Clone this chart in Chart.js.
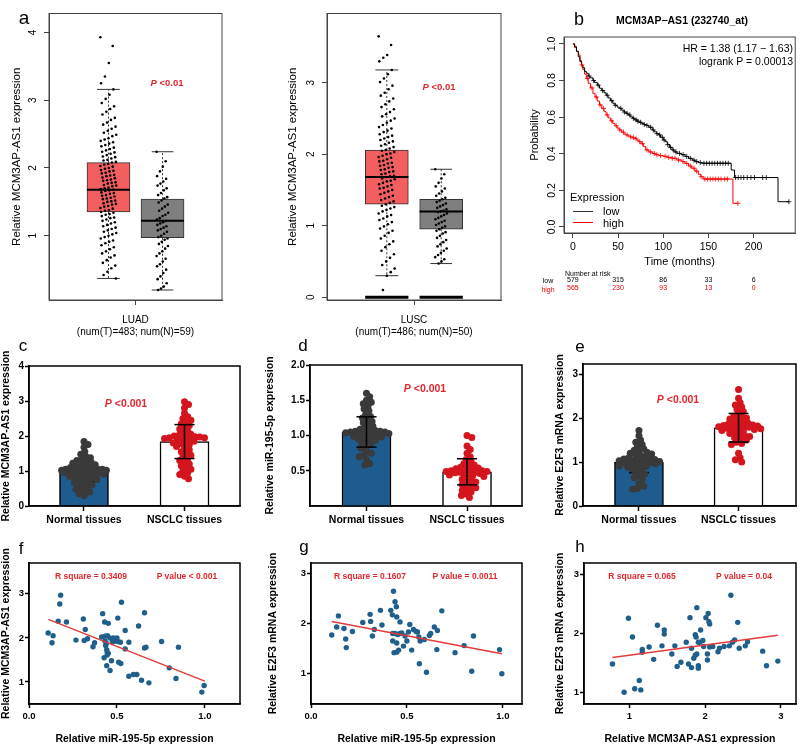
<!DOCTYPE html>
<html><head><meta charset="utf-8">
<script src="https://cdn.jsdelivr.net/npm/chart.js@4.4.1/dist/chart.umd.min.js"></script>
<style>
html,body{margin:0;padding:0;background:#fff;}
#wrap{position:relative;width:800px;height:745px;overflow:hidden;background:#fff;font-family:'Liberation Sans',Arial,Helvetica,sans-serif;color:#000;}
canvas{position:absolute;left:0;top:0;}
.t{position:absolute;white-space:nowrap;transform:translate(-50%,-50%);line-height:1;}
.l{position:absolute;white-space:nowrap;transform:translate(0,-50%);line-height:1;}
.r{position:absolute;white-space:nowrap;transform:translate(-100%,-50%);line-height:1;}
.red{color:#e3262e;font-weight:bold;}
.key{position:absolute;height:0;width:20px;}
</style></head><body><div id="wrap">
<canvas id="cA1" width="800" height="745"></canvas>
<canvas id="cA2" width="800" height="745"></canvas>
<canvas id="cB" width="800" height="745"></canvas>
<canvas id="cC" width="800" height="745"></canvas>
<canvas id="cD" width="800" height="745"></canvas>
<canvas id="cE" width="800" height="745"></canvas>
<canvas id="cF" width="800" height="745"></canvas>
<canvas id="cG" width="800" height="745"></canvas>
<canvas id="cH" width="800" height="745"></canvas>

<div class="t" style="left:24px;top:17px;font-size:19px;">a</div>
<div class="t" style="left:579px;top:19px;font-size:18px;">b</div>
<div class="t" style="left:23px;top:345px;font-size:17px;">c</div>
<div class="t" style="left:303px;top:345px;font-size:17px;">d</div>
<div class="t" style="left:580px;top:346px;font-size:17px;">e</div>
<div class="t" style="left:21px;top:548px;font-size:17px;">f</div>
<div class="t" style="left:304px;top:546px;font-size:17px;">g</div>
<div class="t" style="left:580px;top:546px;font-size:17px;">h</div>

<div class="t red" style="left:167px;top:83px;font-size:9.5px;"><i>P</i> &lt;0.01</div>
<div class="t red" style="left:439px;top:87px;font-size:9.5px;"><i>P</i> &lt;0.01</div>
<div class="t red" style="left:126px;top:403px;font-size:10.5px;"><i>P</i> &lt;0.001</div>
<div class="t red" style="left:425px;top:388px;font-size:10.5px;"><i>P</i> &lt;0.001</div>
<div class="t red" style="left:678px;top:399px;font-size:10.5px;"><i>P</i> &lt;0.001</div>
<div class="t red" style="left:91px;top:576px;font-size:8.5px;">R square = 0.3409</div>
<div class="t red" style="left:187px;top:576px;font-size:8.5px;">P value &lt; 0.001</div>
<div class="t red" style="left:370px;top:576px;font-size:8.5px;">R square = 0.1607</div>
<div class="t red" style="left:465px;top:576px;font-size:8.5px;">P value = 0.0011</div>
<div class="t red" style="left:642px;top:576px;font-size:8.5px;">R square = 0.065</div>
<div class="t red" style="left:744px;top:576px;font-size:8.5px;">P value = 0.04</div>

<div class="t" style="left:682px;top:20px;font-size:10.5px;font-weight:bold;">MCM3AP−AS1 (232740_at)</div>
<div class="r" style="left:793px;top:48px;font-size:10.5px;">HR = 1.38 (1.17 − 1.63)</div>
<div class="r" style="left:793px;top:60.5px;font-size:10.5px;">logrank P = 0.00013</div>
<div class="l" style="left:570px;top:197px;font-size:11px;">Expression</div>
<div class="key" style="left:573px;top:211px;border-top:1px solid #333;"></div>
<div class="l" style="left:603px;top:211px;font-size:11px;">low</div>
<div class="key" style="left:573px;top:222px;border-top:1px solid #f00;"></div>
<div class="l" style="left:603px;top:222.5px;font-size:11px;">high</div>
<div class="l" style="left:565px;top:273px;font-size:7px;">Number at risk</div>
<div class="t" style="left:548px;top:280px;font-size:7px;">low</div>
<div class="t" style="left:548px;top:288.5px;font-size:7px;color:#e00;">high</div>
</div>
<script>
// ================= DATA =================
// panel a: GEPIA box plots
const luadTumor = [3.93,3.80,3.55,3.35,3.25,3.16,3.08,3.02,2.96,2.91,2.87,2.83,2.79,2.74,2.71,2.67,2.64,2.61,2.58,2.55,2.52,2.49,2.47,2.44,2.42,2.40,2.38,2.36,2.34,2.32,2.30,2.28,2.26,2.24,2.23,2.21,2.19,2.17,2.16,2.14,2.12,2.11,2.09,2.08,2.06,2.05,2.03,2.02,2.00,1.99,1.97,1.96,1.95,1.93,1.92,1.90,1.89,1.88,1.86,1.85,1.83,1.82,1.81,1.79,1.78,1.77,1.75,1.74,1.73,1.71,1.70,1.69,1.68,1.67,1.66,1.64,1.63,1.62,1.60,1.59,1.58,1.56,1.55,1.54,1.52,1.51,1.50,1.48,1.47,1.46,1.44,1.43,1.41,1.40,1.38,1.37,1.35,1.34,1.32,1.31,1.29,1.27,1.26,1.24,1.22,1.20,1.18,1.16,1.14,1.12,1.10,1.08,1.06,1.04,1.02,1.00,0.98,0.96,0.93,0.91,0.89,0.86,0.83,0.80,0.77,0.74,0.71,0.68,0.64,0.60,0.56,0.52,0.47,0.42,0.37];
const luadNormal = [2.24,2.10,2.02,1.95,1.88,1.84,1.80,1.77,1.74,1.70,1.67,1.63,1.60,1.57,1.55,1.52,1.49,1.46,1.43,1.40,1.37,1.34,1.31,1.29,1.26,1.24,1.22,1.20,1.18,1.16,1.14,1.12,1.10,1.08,1.06,1.03,1.00,0.98,0.96,0.94,0.91,0.88,0.85,0.81,0.77,0.74,0.70,0.66,0.62,0.58,0.55,0.50,0.45,0.40,0.36,0.30,0.25,0.22,0.20];
const luscTumor = [3.65,3.53,3.39,3.35,3.30,3.18,3.12,3.06,3.01,2.96,2.91,2.86,2.82,2.78,2.74,2.70,2.66,2.63,2.59,2.56,2.53,2.50,2.47,2.44,2.41,2.38,2.36,2.33,2.31,2.28,2.26,2.24,2.22,2.20,2.18,2.16,2.14,2.12,2.10,2.08,2.06,2.05,2.03,2.01,2.00,1.98,1.96,1.95,1.93,1.91,1.90,1.88,1.87,1.85,1.84,1.82,1.81,1.79,1.78,1.76,1.75,1.73,1.72,1.70,1.69,1.68,1.66,1.65,1.63,1.62,1.60,1.58,1.57,1.55,1.53,1.52,1.50,1.48,1.46,1.44,1.42,1.40,1.38,1.36,1.34,1.32,1.30,1.28,1.26,1.24,1.22,1.20,1.17,1.15,1.13,1.10,1.08,1.05,1.02,0.99,0.96,0.93,0.90,0.86,0.82,0.78,0.74,0.70,0.65,0.60,0.55,0.50,0.45,0.40,0.35,0.30,0.10];
const luscNormal = [1.79,1.72,1.66,1.60,1.55,1.52,1.48,1.45,1.42,1.39,1.37,1.35,1.33,1.31,1.29,1.27,1.25,1.23,1.21,1.20,1.19,1.17,1.15,1.13,1.11,1.09,1.07,1.05,1.03,1.01,0.99,0.97,0.95,0.93,0.91,0.89,0.86,0.83,0.80,0.77,0.74,0.71,0.68,0.65,0.62,0.59,0.56,0.53,0.50,0.47];
// [lower whisker, Q1, median, Q3, upper whisker]
const luadTumorBox = [0.37, 1.35, 1.68, 2.08, 3.16];
const luadNormalBox = [0.20, 0.97, 1.22, 1.54, 2.24];
const luscTumorBox = [0.30, 1.30, 1.68, 2.06, 3.18];
const luscNormalBox = [0.47, 0.95, 1.20, 1.37, 1.79];
const boxCategories = ['LUAD', 'LUSC'];
const boxSubtitles = ['(num(T)=483; num(N)=59)', '(num(T)=486; num(N)=50)'];
const luadYTicks = [1, 2, 3, 4];
const luscYTicks = [0, 1, 2, 3];

// panel b: Kaplan-Meier
const kmLowT = [0,2,4,6,7.7,9.5,11,13,14.9,17,19,22.2,24,27,29.5,32,34.5,36.8,39,41.5,44.1,46.5,49,51.4,54,56.5,58.7,61,63.5,65.9,68.5,71,73.2,76,78.8,81,84,87.8,90,92.5,95.1,97,100,102.4,104.5,107,109.7,112,115.1,120,124.2,128,132,135.2,139,142.4,175.2,178.9,227,239];
const kmLowS = [1,0.985,0.96,0.93,0.905,0.885,0.87,0.85,0.84,0.825,0.815,0.80,0.79,0.775,0.758,0.745,0.733,0.72,0.705,0.69,0.676,0.665,0.655,0.648,0.638,0.628,0.621,0.612,0.602,0.594,0.585,0.578,0.572,0.566,0.56,0.555,0.545,0.53,0.52,0.51,0.503,0.49,0.475,0.466,0.45,0.435,0.421,0.41,0.402,0.395,0.385,0.375,0.365,0.357,0.352,0.348,0.311,0.27,0.138,0.138];
const kmHighT = [0,2,4,6.3,8,9.5,11,13,14.9,17,19.5,22.2,24.5,27,29.5,32,34.5,36.8,39,41.5,44.1,46.5,49,51.4,54,56.5,58.7,61,63.5,65.9,68.5,71,73.2,75.5,78,80.5,84,87.8,91,95.1,100,105,109.7,115,120.6,124,128,131.5,135,138.8,141.5,144.3,177.1,182.6];
const kmHighS = [1,0.98,0.96,0.94,0.91,0.885,0.86,0.835,0.812,0.785,0.76,0.73,0.71,0.688,0.667,0.648,0.63,0.612,0.596,0.58,0.566,0.553,0.54,0.53,0.518,0.508,0.503,0.497,0.492,0.488,0.482,0.474,0.466,0.455,0.44,0.421,0.41,0.402,0.395,0.39,0.386,0.38,0.375,0.366,0.357,0.347,0.333,0.321,0.305,0.288,0.275,0.262,0.129,0.129];
const kmLowCensor = [18,23,28,33,38,43,47,53,57,60,63,67,70,72,75,79,82,86,89,93,96,99,101,105,108,111,114,118,122,126,130,134,137,141,145,148,151,154,157,160,163,166,169,172,180,183,186,189,193,197,201,210,214,239];
const kmHighCensor = [10,16,21,26,30,34,38,43,48,52,56,60,64,67,70,74,77,82,86,90,93,97,102,106,110,113,117,122,126,130,134,137,142,146,149,152,155,158,161,164,168,171,182.6];
const riskTimes = [0, 50, 100, 150, 200];
const riskLow = [579, 315, 86, 33, 6];
const riskHigh = [565, 230, 93, 13, 0];
const kmXTicks = [0, 50, 100, 150, 200];
const kmYTicks = [0, 0.2, 0.4, 0.6, 0.8, 1.0];

// panels c-e: bar + dot plots
const groupLabels = ['Normal tissues', 'NSCLC tissues'];
const cNormal = [1.84,1.76,1.68,1.55,1.48,1.42,1.38,1.33,1.30,1.28,1.25,1.22,1.20,1.18,1.15,1.12,1.10,1.08,1.07,1.06,1.05,1.05,1.04,1.03,1.02,1.02,1.01,1.00,1.00,0.99,0.98,0.97,0.96,0.95,0.93,0.91,0.90,0.88,0.86,0.84,0.82,0.80,0.78,0.75,0.72,0.70,0.67,0.63,0.60,0.56,0.52,0.48,0.44,0.40,0.35,0.30];
const cNSCLC = [2.98,2.90,2.80,2.65,2.55,2.50,2.45,2.40,2.35,2.30,2.25,2.20,2.15,2.10,2.05,2.02,2.00,2.00,1.98,1.97,1.95,1.95,1.93,1.92,1.90,1.88,1.85,1.82,1.80,1.78,1.75,1.70,1.65,1.60,1.55,1.50,1.45,1.40,1.35,1.30,1.25,1.20,1.15,1.10,1.05,1.00,0.95,0.90,0.85,0.78];
const cMean = [1.00, 1.84];
const cSD = [0.30, 0.485];
const dNormal = [1.60,1.55,1.50,1.47,1.45,1.42,1.38,1.35,1.30,1.27,1.25,1.22,1.20,1.18,1.15,1.13,1.10,1.09,1.08,1.07,1.06,1.06,1.05,1.05,1.04,1.04,1.03,1.03,1.02,1.01,1.00,0.99,0.98,0.97,0.96,0.95,0.93,0.92,0.90,0.88,0.85,0.82,0.78,0.75,0.72,0.70,0.65,0.60,0.58];
const dNSCLC = [1.00,0.97,0.85,0.80,0.75,0.70,0.66,0.63,0.60,0.58,0.56,0.55,0.54,0.53,0.52,0.51,0.50,0.50,0.49,0.49,0.48,0.48,0.47,0.47,0.46,0.45,0.44,0.43,0.42,0.40,0.38,0.36,0.34,0.32,0.30,0.28,0.26,0.24,0.22,0.20,0.17,0.15,0.12];
const dMean = [1.05, 0.485];
const dSD = [0.215, 0.185];
const eNormal = [1.72,1.60,1.50,1.45,1.40,1.35,1.30,1.27,1.25,1.22,1.20,1.18,1.15,1.13,1.12,1.10,1.08,1.07,1.06,1.05,1.04,1.03,1.02,1.01,1.00,1.00,0.99,0.98,0.97,0.96,0.95,0.93,0.91,0.90,0.88,0.86,0.84,0.80,0.76,0.72,0.68,0.64,0.60,0.50,0.45,0.40,0.38];
const eNSCLC = [2.65,2.45,2.35,2.30,2.25,2.20,2.15,2.10,2.05,2.02,2.00,1.98,1.95,1.92,1.90,1.88,1.86,1.85,1.84,1.83,1.82,1.81,1.80,1.80,1.79,1.78,1.77,1.76,1.75,1.74,1.72,1.70,1.68,1.65,1.62,1.60,1.58,1.55,1.52,1.50,1.45,1.42,1.40,1.20,1.10,1.05,1.00];
const eMean = [1.00, 1.78];
const eSD = [0.24, 0.325];

// panels f-h: correlations
const fX = [0.18,0.175,0.166,0.213,0.109,0.137,0.131,0.267,0.309,0.32,0.314,0.333,0.364,0.373,0.419,0.43,0.451,0.413,0.432,0.446,0.46,0.432,0.44,0.436,0.48,0.49,0.5,0.505,0.526,0.474,0.482,0.505,0.52,0.442,0.445,0.427,0.445,0.451,0.442,0.461,0.469,0.51,0.522,0.547,0.547,0.568,0.568,0.594,0.613,0.623,0.64,0.657,0.657,0.665,0.682,0.754,0.798,0.836,0.85,0.983,0.996];
const fY = [2.97,2.77,2.38,2.36,2.11,2.05,1.89,1.95,2.43,2.19,1.94,1.98,1.80,1.89,2.55,2.36,2.33,2.02,2.04,2.05,2.0,1.93,1.88,1.83,2.0,1.96,2.0,2.45,2.81,1.92,1.92,1.92,1.9,1.73,1.67,1.55,1.61,1.65,1.37,1.26,1.48,1.45,1.42,2.17,1.75,1.9,1.13,1.17,1.17,2.27,1.04,2.57,1.77,1.79,0.98,1.92,1.32,1.08,1.79,0.77,0.92];
const fFitX = [0.11, 1.0];
const fFitY = [2.42, 1.02];
const gX = [0.108,0.134,0.143,0.172,0.181,0.184,0.216,0.27,0.308,0.311,0.32,0.33,0.362,0.37,0.416,0.424,0.43,0.438,0.445,0.447,0.426,0.438,0.452,0.463,0.473,0.426,0.447,0.433,0.447,0.457,0.464,0.482,0.49,0.5,0.508,0.515,0.525,0.534,0.548,0.555,0.562,0.569,0.565,0.591,0.602,0.617,0.624,0.643,0.656,0.659,0.682,0.751,0.798,0.838,0.847,0.983,0.995];
const gY = [1.77,1.93,2.15,1.90,1.69,1.52,1.84,2.02,2.18,2.04,1.75,1.88,2.26,1.97,2.26,2.17,2.64,2.43,2.33,2.13,1.80,1.80,1.78,1.80,1.81,1.65,1.61,1.42,1.43,1.47,2.03,1.55,1.75,1.65,1.83,1.98,1.47,1.88,1.84,1.83,1.73,1.65,1.20,1.68,1.03,1.76,1.80,1.93,1.48,1.86,2.25,1.42,1.56,1.05,1.75,1.48,1.00];
const gFitX = [0.108, 0.995];
const gFitY = [2.04, 1.40];
const hX = [0.776,0.93,0.987,1.04,1.07,1.13,1.15,1.17,1.17,1.26,1.32,1.37,1.43,1.46,1.46,1.56,1.6,1.63,1.68,1.75,1.78,1.80,1.82,1.82,1.85,1.87,1.89,1.87,1.88,1.89,1.91,1.93,1.91,1.91,1.94,1.97,1.98,2.01,2.04,2.05,2.06,2.03,2.03,2.06,2.1,2.17,2.19,2.25,2.32,2.34,2.36,2.39,2.43,2.45,2.53,2.56,2.76,2.81,2.96];
const hY = [1.48,1.0,2.26,1.94,1.06,1.2,1.04,1.73,1.68,1.77,1.56,2.14,1.79,2.06,1.99,1.65,1.79,1.44,1.51,1.85,1.48,2.27,1.42,1.75,1.58,1.63,1.65,1.98,1.94,2.44,1.85,1.85,1.45,1.41,2.06,1.88,1.78,2.27,2.34,2.2,2.16,1.65,1.55,1.77,1.78,1.69,1.75,1.78,1.79,2.65,1.85,1.89,2.19,1.75,1.79,1.86,1.70,1.45,1.53];
const hFitX = [0.776, 2.96];
const hFitY = [1.59, 1.97];

// ================= HELPERS =================
const FONT = "'Liberation Sans', Arial, Helvetica, sans-serif";
const PAGE_W = 800, PAGE_H = 745;
const fontOf = (size, bold) => ({ family: FONT, size: size, weight: bold ? 'bold' : 'normal' });

const framePlugin = {
  id: 'frame',
  afterDatasetsDraw(chart, args, opts) {
    if (!opts || !opts.width) return;
    const { ctx, chartArea: c } = chart;
    ctx.save();
    ctx.strokeStyle = opts.color;
    ctx.lineWidth = opts.width;
    ctx.strokeRect(c.left, c.top, c.right - c.left, c.bottom - c.top);
    ctx.restore();
  }
};
Chart.register(framePlugin);

function makeY(o) {
  const lh = o.titleSize * 1.2;
  const scaleLeft = o.area.l - o.W;
  return {
    type: 'linear', position: 'left', min: o.min, max: o.max, offset: false,
    afterBuildTicks: s => { s.ticks = o.ticks.map(v => ({ value: v })); },
    afterFit: s => { s.width = o.W; },
    grid: { display: true, drawOnChartArea: false, drawTicks: true, tickLength: o.tickLen, tickColor: o.color, tickWidth: o.lw, offset: false },
    border: { display: true, color: o.color, width: o.lw },
    ticks: { autoSkip: false, callback: v => o.fmt(v), font: fontOf(o.tickSize, o.bold), color: '#000', padding: o.pad,
             minRotation: o.rotate ? 90 : 0, maxRotation: o.rotate ? 90 : 0, crossAlign: o.rotate ? 'center' : 'near' },
    title: { display: true, text: o.title, color: '#000', font: fontOf(o.titleSize, o.bold),
             padding: { top: Math.max(0, o.titleCx - scaleLeft - lh / 2), bottom: 0 } }
  };
}
function makeX(o) {
  const cfg = {
    type: 'linear', position: 'bottom', min: o.min, max: o.max, offset: false,
    afterBuildTicks: s => { s.ticks = o.ticks.map(v => ({ value: v })); },
    afterFit: s => { s.height = o.H; },
    grid: { display: true, drawOnChartArea: false, drawTicks: true, tickLength: o.tickLen, tickColor: o.color, tickWidth: o.lw, offset: false },
    border: { display: true, color: o.color, width: o.lw },
    ticks: { autoSkip: false, minRotation: 0, maxRotation: 0, callback: v => o.fmt(v), font: fontOf(o.tickSize, o.bold), color: '#000', padding: o.pad },
    title: { display: false }
  };
  if (o.title) {
    const lh = o.titleSize * 1.2;
    cfg.title = { display: true, text: o.title, color: '#000', font: fontOf(o.titleSize, o.bold),
                  padding: { top: 0, bottom: Math.max(0, o.area.b + o.H - o.titleCy - lh / 2) } };
  }
  return cfg;
}
function makeChart(id, type, area, yW, xH, datasets, x, y, frame, plugins) {
  return new Chart(document.getElementById(id), {
    type: type,
    data: { datasets: datasets },
    options: {
      responsive: false, animation: false, devicePixelRatio: 1, events: [],
      layout: { padding: { left: area.l - yW, top: area.t, right: PAGE_W - area.r, bottom: PAGE_H - area.b - xH } },
      scales: { x: x, y: y },
      plugins: { legend: { display: false }, tooltip: { enabled: false }, title: { display: false }, frame: frame }
    },
    plugins: plugins || []
  });
}
function seg(x1, y1, x2, y2, color, width, dash, order) {
  return { type: 'line', data: [{ x: x1, y: y1 }, { x: x2, y: y2 }], borderColor: color, borderWidth: width,
           borderDash: dash || [], pointRadius: 0, fill: false, order: order, tension: 0 };
}
// deterministic horizontal jitter (layout only) around a category position
function jitter(vals, center, spread) {
  return vals.map((v, i) => ({ x: center + (((i * 0.6180339887 + (i % 7) * 0.1429) % 1) - 0.5) * 2 * spread, y: v }));
}
// beeswarm layout: horizontal offsets (pixels) limited to maxOff, so dots do not pile up
function swarm(vals, center, pxX, pxY, minDist, maxOff) {
  const placed = [], out = [];
  vals.forEach(v => {
    const py = v * pxY;
    let best = 0, bestGap = -1;
    for (let k = 0; ; k++) {
      const c = (k % 2 ? 1 : -1) * Math.ceil(k / 2) * 0.8;
      if (Math.abs(c) > maxOff) break;
      let gap = Infinity;
      for (const p of placed) {
        const dx = p.x - c, dy = p.y - py;
        gap = Math.min(gap, Math.sqrt(dx * dx + dy * dy));
      }
      if (gap >= minDist) { best = c; break; }
      if (gap > bestGap) { bestGap = gap; best = c; }
    }
    placed.push({ x: best, y: py });
    out.push({ x: center + best / pxX, y: v });
  });
  return out;
}
function stepAt(T, S, t) {
  let s = S[0];
  for (let i = 0; i < T.length; i++) { if (T[i] <= t) s = S[i]; }
  return s;
}

// ================= PANEL a (box plots) =================
const boxPos = [-0.5, 0.5];
function boxPanel(id, area, yMin, yMax, yTicks, tBox, nBox, tVals, nVals, cat, sub, titleCx, zeroBars) {
  const yW = area.l - (titleCx < 100 ? 3 : 280);
  const hw = 0.21, cw = 0.2;
  const ds = [
    { type: 'bar', data: [{ x: boxPos[0], y: [tBox[1], tBox[3]] }, { x: boxPos[1], y: [nBox[1], nBox[3]] }],
      backgroundColor: ['#f35f5f', '#7f7f7f'], borderColor: '#333', borderWidth: 1, borderSkipped: false, barThickness: 43, order: 10 },
    seg(boxPos[0], tBox[3], boxPos[0], tBox[4], '#333', 1, [2, 2], 8),
    seg(boxPos[0], tBox[1], boxPos[0], tBox[0], '#333', 1, [2, 2], 8),
    seg(boxPos[1], nBox[3], boxPos[1], nBox[4], '#333', 1, [2, 2], 8),
    seg(boxPos[1], nBox[1], boxPos[1], nBox[0], '#333', 1, [2, 2], 8),
    seg(boxPos[0] - hw, tBox[4], boxPos[0] + hw, tBox[4], '#333', 1, [], 8),
    seg(boxPos[0] - hw, tBox[0], boxPos[0] + hw, tBox[0], '#333', 1, [], 8),
    seg(boxPos[1] - cw, nBox[4], boxPos[1] + cw, nBox[4], '#333', 1, [], 8),
    seg(boxPos[1] - cw, nBox[0], boxPos[1] + cw, nBox[0], '#333', 1, [], 8),
    { type: 'line', showLine: false, data: jitter(tVals, boxPos[0], 0.15), pointRadius: 1.3, pointBackgroundColor: '#000', pointBorderWidth: 0, order: 4 },
    { type: 'line', showLine: false, data: jitter(nVals, boxPos[1], 0.11), pointRadius: 1.3, pointBackgroundColor: '#000', pointBorderWidth: 0, order: 4 },
    seg(boxPos[0] - 0.397, tBox[2], boxPos[0] + 0.397, tBox[2], '#000', 2, [], 2),
    seg(boxPos[1] - 0.397, nBox[2], boxPos[1] + 0.397, nBox[2], '#000', 2, [], 2)
  ];
  if (zeroBars) {
    ds.push(seg(boxPos[0] - 0.397, 0, boxPos[0] + 0.397, 0, '#000', 3, [], 1));
    ds.push(seg(boxPos[1] - 0.397, 0, boxPos[1] + 0.397, 0, '#000', 3, [], 1));
  }
  const y = makeY({ area, W: yW, min: yMin, max: yMax, ticks: yTicks, fmt: v => String(v), tickSize: 10, bold: false,
                    color: '#444', lw: 1, tickLen: 5, pad: 7.5, rotate: true,
                    title: 'Relative MCM3AP-AS1 expression', titleSize: 11.5, titleCx: titleCx });
  const x = makeX({ area, H: 45, min: -1.6, max: 1.6, ticks: [0], fmt: () => [cat, sub], tickSize: 10, bold: false,
                    color: '#444', lw: 1, tickLen: 5, pad: 9.5 });
  makeChart(id, 'bar', area, yW, 45, ds, x, y, { width: 1, color: '#444' });
}
boxPanel('cA1', { l: 49, t: 10, r: 222, b: 300 }, 0.052, 4.28, luadYTicks, luadTumorBox, luadNormalBox, luadTumor, luadNormal,
         boxCategories[0], boxSubtitles[0], 16.7, false);
boxPanel('cA2', { l: 327, t: 10, r: 501, b: 300 }, -0.04, 3.97, luscYTicks, luscTumorBox, luscNormalBox, luscTumor, luscNormal,
         boxCategories[1], boxSubtitles[1], 293.3, true);

// ================= PANEL b (KM) =================
(function () {
  const area = { l: 564, t: 37, r: 798, b: 233 };
  const yW = 39, xH = 37;
  const ds = [
    { type: 'line', data: kmLowT.map((t, i) => ({ x: t, y: kmLowS[i] })), stepped: 'before', borderColor: '#000', borderWidth: 1, pointRadius: 0, fill: false, order: 3 },
    { type: 'line', data: kmHighT.map((t, i) => ({ x: t, y: kmHighS[i] })), stepped: 'before', borderColor: '#ff0000', borderWidth: 1, pointRadius: 0, fill: false, order: 3 },
    { type: 'line', showLine: false, data: kmLowCensor.map(t => ({ x: t, y: stepAt(kmLowT, kmLowS, t) })), pointStyle: 'cross', pointRadius: 2.5, pointBorderColor: '#000', pointBorderWidth: 0.8, order: 2 },
    { type: 'line', showLine: false, data: kmHighCensor.map(t => ({ x: t, y: stepAt(kmHighT, kmHighS, t) })), pointStyle: 'cross', pointRadius: 2.5, pointBorderColor: '#ff0000', pointBorderWidth: 0.8, order: 2 }
  ];
  const y = makeY({ area, W: yW, min: -0.033, max: 1.038, ticks: kmYTicks, fmt: v => v.toFixed(1), tickSize: 10.5, bold: false,
                    color: '#444', lw: 1, tickLen: 5, pad: 0, rotate: true, title: 'Probability', titleSize: 11, titleCx: 535 });
  const x = makeX({ area, H: xH, min: -9.8, max: 246, ticks: kmXTicks, fmt: v => String(v), tickSize: 10.5, bold: false,
                    color: '#444', lw: 1, tickLen: 5, pad: 2.4, title: 'Time (months)', titleSize: 11, titleCy: 261.7 });
  const riskPlugin = {
    id: 'risk',
    afterDraw(chart) {
      const sx = chart.scales.x, ctx = chart.ctx;
      ctx.save();
      ctx.font = '7px ' + FONT;
      ctx.textAlign = 'center';
      ctx.textBaseline = 'middle';
      riskTimes.forEach((t, i) => {
        const px = sx.getPixelForValue(t);
        ctx.fillStyle = '#000'; ctx.fillText(String(riskLow[i]), px, 280);
        ctx.fillStyle = '#e00'; ctx.fillText(String(riskHigh[i]), px, 288.5);
      });
      ctx.restore();
    }
  };
  makeChart('cB', 'scatter', area, yW, xH, ds, x, y, { width: 1, color: '#444' }, [riskPlugin]);
})();

// ================= PANELS c-e (bar + dots) =================
const barPos = [1, 2];
function barPanel(id, area, xMin, xMax, yMax, yTicks, fmt, normVals, tumVals, mean, sd, title, titleCx, errBehind) {
  const yW = area.l - (titleCx < 100 ? 0 : titleCx - 7);
  const xH = 30;
  const pxX = (area.r - area.l) / (xMax - xMin);
  const pxY = (area.b - area.t) / yMax;
  const cap = 0.1;
  const ds = [
    { type: 'bar', data: [{ x: barPos[0], y: mean[0] }, { x: barPos[1], y: mean[1] }], backgroundColor: ['#1e5b8e', '#ffffff'],
      borderColor: '#000', borderWidth: 1.5, borderSkipped: 'bottom', barThickness: 49, order: 10 },
    { type: 'line', showLine: false, data: swarm(normVals, barPos[0], pxX, pxY, 4.6, 23), pointRadius: 3.5, pointBackgroundColor: '#3a3a3a', pointBorderWidth: 0, order: 5 },
    { type: 'line', showLine: false, data: swarm(tumVals, barPos[1], pxX, pxY, 4.6, 23), pointRadius: 3.5, pointBackgroundColor: '#d4151d', pointBorderWidth: 0, order: 5 }
  ];
  for (let i = 0; i < 2; i++) {
    const ord = errBehind[i] ? 7 : 1;
    ds.push(seg(barPos[i], mean[i] - sd[i], barPos[i], mean[i] + sd[i], '#000', 1.5, [], ord));
    ds.push(seg(barPos[i] - cap, mean[i] + sd[i], barPos[i] + cap, mean[i] + sd[i], '#000', 1.5, [], ord));
    ds.push(seg(barPos[i] - cap, mean[i] - sd[i], barPos[i] + cap, mean[i] - sd[i], '#000', 1.5, [], ord));
  }
  const y = makeY({ area, W: yW, min: 0, max: yMax, ticks: yTicks, fmt: fmt, tickSize: 10, bold: true,
                    color: '#000', lw: 1.5, tickLen: 4, pad: 1, rotate: false, title: title, titleSize: 10.5, titleCx: titleCx });
  const x = makeX({ area, H: xH, min: xMin, max: xMax, ticks: barPos, fmt: v => groupLabels[v - 1], tickSize: 10.5, bold: true,
                    color: '#000', lw: 1.5, tickLen: 5, pad: 2.7 });
  makeChart(id, 'bar', area, yW, xH, ds, x, y, { width: 1.5, color: '#000' });
}
barPanel('cC', { l: 29, t: 366, r: 240, b: 506 }, 0.453, 2.552, 4, [0, 1, 2, 3, 4], v => String(v), cNormal, cNSCLC, cMean, cSD,
         'Relative MCM3AP-AS1 expression', 6, [true, false]);
barPanel('cD', { l: 310, t: 365, r: 522, b: 506 }, 0.438, 2.547, 2, [0.5, 1, 1.5, 2], v => v.toFixed(1), dNormal, dNSCLC, dMean, dSD,
         'Relative miR-195-5p expression', 270, [false, false]);
barPanel('cE', { l: 583, t: 364, r: 798, b: 506 }, 0.438, 2.577, 3.23, [0, 1, 2, 3], v => String(v), eNormal, eNSCLC, eMean, eSD,
         'Relative E2F3 mRNA expression', 560, [true, false]);

// ================= PANELS f-h (scatter + fit) =================
function scatterPanel(id, area, xMin, xMax, xTicks, xFmt, yMin, yMax, yTicks, xs, ys, fitX, fitY, yTitle, xTitle, titleCx) {
  const yW = area.l - (titleCx < 100 ? 0 : titleCx - 6.5);
  const xH = 41;
  const ds = [
    { type: 'line', showLine: false, data: xs.map((v, i) => ({ x: v, y: ys[i] })), pointRadius: 2.7, pointBackgroundColor: '#1f5f8b', pointBorderWidth: 0, order: 3 },
    { type: 'line', data: fitX.map((v, i) => ({ x: v, y: fitY[i] })), borderColor: '#e23b3b', borderWidth: 1.5, pointRadius: 0, fill: false, order: 1 }
  ];
  const y = makeY({ area, W: yW, min: yMin, max: yMax, ticks: yTicks, fmt: v => String(v), tickSize: 9.5, bold: true,
                    color: '#000', lw: 1.5, tickLen: 4, pad: 1, rotate: false, title: yTitle, titleSize: 10.5, titleCx: titleCx });
  const x = makeX({ area, H: xH, min: xMin, max: xMax, ticks: xTicks, fmt: xFmt, tickSize: 9.5, bold: true,
                    color: '#000', lw: 1.5, tickLen: 4, pad: 2.7, title: xTitle, titleSize: 10.5, titleCy: 740 });
  makeChart(id, 'scatter', area, yW, xH, ds, x, y, { width: 1.5, color: '#000' });
}
scatterPanel('cF', { l: 29, t: 563, r: 240, b: 704 }, 0, 1.2, [0, 0.5, 1], v => v.toFixed(1), 0.5, 3.7, [1, 2, 3], fX, fY, fFitX, fFitY,
             'Relative MCM3AP-AS1 expression', 'Relative miR-195-5p expression', 6);
scatterPanel('cG', { l: 311, t: 563, r: 522, b: 704 }, 0, 1.1, [0, 0.5, 1], v => v.toFixed(1), 0.4, 3.2, [1, 2, 3], gX, gY, gFitX, gFitY,
             'Relative E2F3 mRNA expression', 'Relative miR-195-5p expression', 273.3);
scatterPanel('cH', { l: 584, t: 563, r: 796, b: 704 }, 0.4, 3.2, [1, 2, 3], v => String(v), 0.8, 3.2, [1, 2, 3], hX, hY, hFitX, hFitY,
             'Relative E2F3 mRNA expression', 'Relative MCM3AP-AS1 expression', 560);
</script></body></html>
